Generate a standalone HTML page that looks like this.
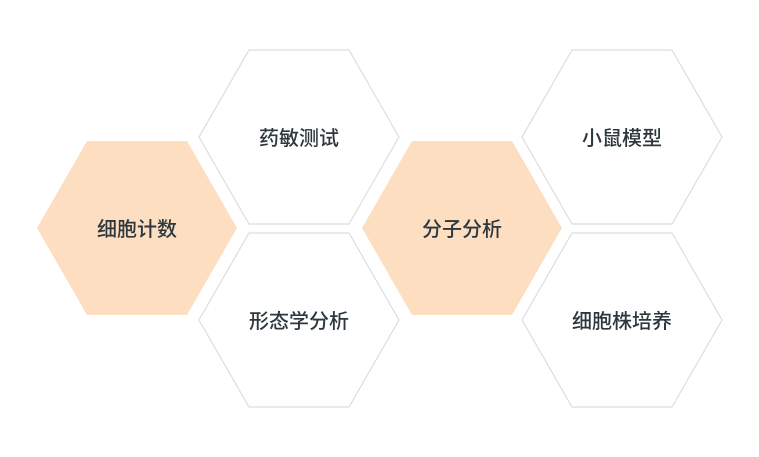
<!DOCTYPE html>
<html><head><meta charset="utf-8"><style>
html,body{margin:0;padding:0;background:#fff;}
svg{display:block}
text{font-family:"Liberation Sans","Noto Sans CJK SC",sans-serif;font-size:20px;font-weight:500;fill:#2c383d;text-anchor:middle;dominant-baseline:central}
</style></head><body>
<svg width="759" height="457" viewBox="0 0 759 457" xmlns="http://www.w3.org/2000/svg">
<defs>
<polygon id="h" points="-100,0 -50,-87 50,-87 100,0 50,87 -50,87"/>
</defs>
<g fill="#fddec1">
<use href="#h" x="137" y="228"/>
<use href="#h" x="462" y="228"/>
</g>
<g fill="#fff" stroke="#dddddd" stroke-width="1.2">
<use href="#h" x="299" y="137"/>
<use href="#h" x="299" y="320"/>
<use href="#h" x="622" y="137"/>
<use href="#h" x="622" y="320"/>
</g>
<text x="137" y="230">细胞计数</text>
<text x="462" y="230">分子分析</text>
<text x="299" y="139">药敏测试</text>
<text x="299" y="322">形态学分析</text>
<text x="622" y="139">小鼠模型</text>
<text x="622" y="322">细胞株培养</text>
</svg>
</body></html>
